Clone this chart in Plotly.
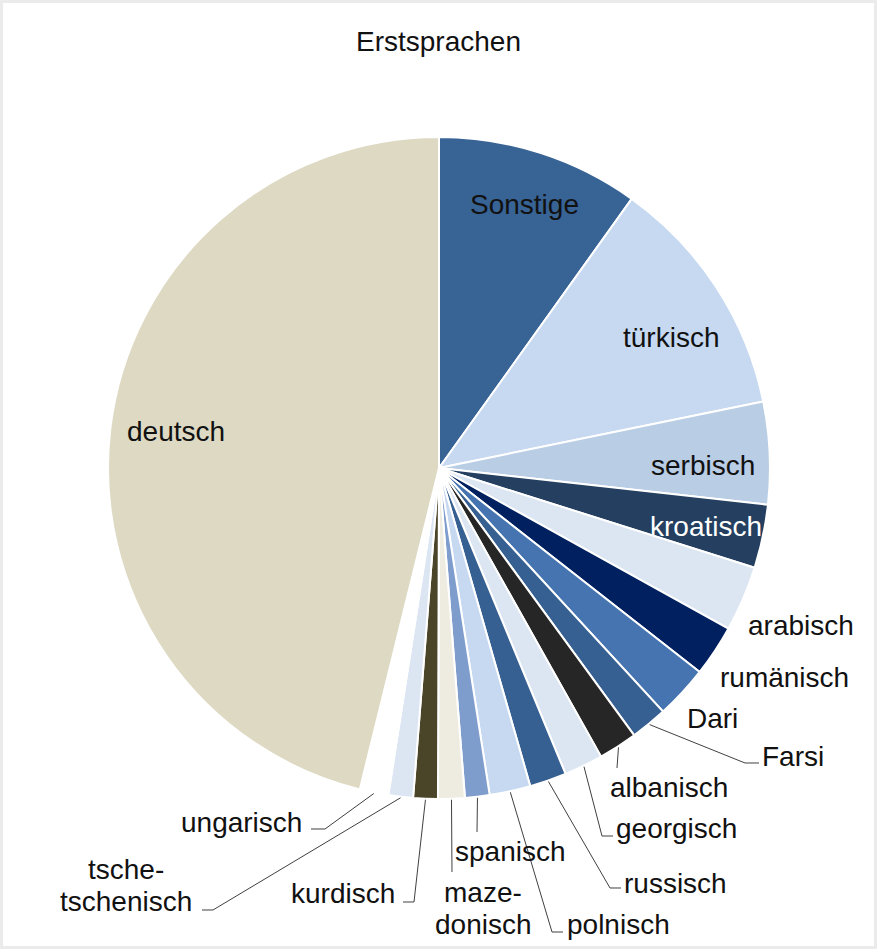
import math
import plotly.graph_objects as go

# Canvas size in pixels
W, H = 877, 949

# Erstsprachen: share in percent, clockwise from 12 o'clock
languages = ["Sonstige", "türkisch", "serbisch", "kroatisch", "arabisch", "rumänisch",
             "Dari", "Farsi", "albanisch", "georgisch", "russisch", "polnisch",
             "spanisch", "mazedonisch", "kurdisch", "tschetschenisch", "ungarisch", "deutsch"]
shares = [9.9, 11.9, 5.0, 3.1, 3.2, 2.5,
          2.6, 1.8, 1.9, 1.9, 1.8, 2.0,
          1.2, 1.3, 1.2, 1.2, 1.4, 46.2]
colors = ["#386395", "#c6d9f1", "#b9cde5", "#243f60", "#dce6f2", "#002060",
          "#4674b0", "#376092", "#262626", "#dce6f2", "#366092", "#c6d9f1",
          "#7f9dcc", "#eeece1", "#4a4529", "#dce6f2", "#ffffff", "#ddd9c3"]

# Hyphenated display form of long names
display_lines = {"mazedonisch": ["maze-", "donisch"],
                 "tschetschenisch": ["tsche-", "tschenisch"]}

# Pie geometry (pixels)
CX, CY, R = 439, 468, 331
FONT = "Liberation Sans, Arial, sans-serif"
FS = 28
TXT = "#111111"
LINE = "#404040"


def px(x):
    return x / W


def py(y):
    return 1 - y / H


# Label placement: inside labels (x, y, color); outside labels with anchor and leader path
inside = {
    "Sonstige": (524, 204, TXT),
    "türkisch": (671, 337, TXT),
    "serbisch": (703, 465, TXT),
    "kroatisch": (706, 526, "#ffffff"),
    "deutsch": (176, 431, TXT),
}
# name: (text x, text y, xanchor, leader points after the rim point)
outside = {
    "arabisch": (746, 625, "left", None),
    "rumänisch": (718, 677, "left", None),
    "Dari": (685, 718, "left", None),
    "Farsi": (760, 756, "left", [(745, 763), (759, 763)]),
    "albanisch": (669, 787, "center", [(617, 768)]),
    "georgisch": (614, 828, "left", [(602, 836), (613, 836)]),
    "russisch": (622, 883, "left", [(610, 888), (621, 888)]),
    "polnisch": (565, 924, "left", [(552, 932), (563, 932)]),
    "spanisch": (511, 851, "center", [(477, 832)]),
    "mazedonisch": (483, 892, "center", [(452, 872)]),
    "kurdisch": (397, 893, "right", [(414, 902), (403, 902)]),
    "tschetschenisch": (126, 869, "center", [(213, 910), (202, 910)]),
    "ungarisch": (304, 822, "right", [(325, 829), (311, 829)]),
}
line_gap = 32

fig = go.Figure(go.Pie(
    labels=languages,
    values=shares,
    sort=False,
    direction="clockwise",
    rotation=0,
    marker=dict(colors=colors, line=dict(color="#ffffff", width=2)),
    textinfo="none",
    hoverinfo="label+percent",
    showlegend=False,
    domain=dict(x=[px(CX - R), px(CX + R)], y=[py(CY + R), py(CY - R)]),
))

annotations = []
shapes = []

# Mid-angle of each slice from the data
total = sum(shares)
mid_angle = {}
acc = 0.0
for name, v in zip(languages, shares):
    mid_angle[name] = (acc + v / 2) / total * 360.0
    acc += v

for name, (x, y, col) in inside.items():
    annotations.append(dict(x=px(x), y=py(y), xref="paper", yref="paper", text=name,
                            showarrow=False, xanchor="center", yanchor="middle",
                            font=dict(family=FONT, size=FS, color=col)))

for name, (x, y, anchor, leader) in outside.items():
    lines = display_lines.get(name, [name])
    for i, t in enumerate(lines):
        annotations.append(dict(x=px(x), y=py(y + i * line_gap), xref="paper", yref="paper",
                                text=t, showarrow=False, xanchor=anchor, yanchor="middle",
                                font=dict(family=FONT, size=FS, color=TXT)))
    if leader:
        a = math.radians(mid_angle[name])
        sx = CX + (R + 1) * math.sin(a)
        sy = CY - (R + 1) * math.cos(a)
        pts = [(sx, sy)] + leader
        path = "M " + " L ".join(f"{px(p[0]):.5f},{py(p[1]):.5f}" for p in pts)
        shapes.append(dict(type="path", path=path, xref="paper", yref="paper",
                           line=dict(color=LINE, width=1)))

# Light frame around the chart area
shapes.append(dict(type="rect", xref="paper", yref="paper",
                   x0=px(1.5), x1=px(W - 1.5), y0=py(H - 1.5), y1=py(1.5),
                   line=dict(color="#ebebeb", width=3), fillcolor="rgba(0,0,0,0)", layer="below"))

fig.update_layout(
    width=W, height=H,
    margin=dict(l=0, r=0, t=0, b=0),
    paper_bgcolor="#ffffff",
    plot_bgcolor="#ffffff",
    title=dict(text="Erstsprachen", x=0.5, xanchor="center", y=py(41), yanchor="middle",
               yref="container", font=dict(family=FONT, size=FS, color=TXT)),
    annotations=annotations,
    shapes=shapes,
)

fig.write_html("out.html")
